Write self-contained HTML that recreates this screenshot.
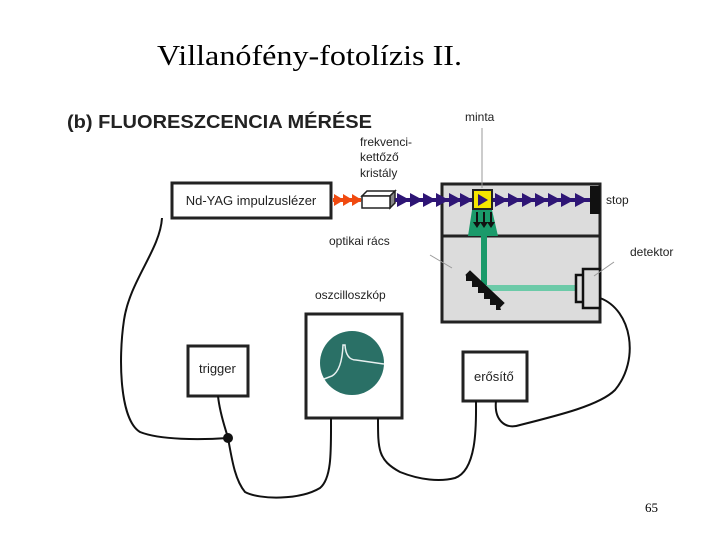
<!DOCTYPE html>
<html><head><meta charset="utf-8"><style>
html,body{margin:0;padding:0;background:#fff;width:720px;height:540px;overflow:hidden}
svg{display:block}
.s{font-family:"Liberation Sans",sans-serif;fill:#222}
</style></head><body>
<svg width="720" height="540" viewBox="0 0 720 540" xmlns="http://www.w3.org/2000/svg">
<text x="157" y="65" textLength="305" lengthAdjust="spacingAndGlyphs" font-family="Liberation Serif,serif" font-size="28" fill="#000">Villanófény-fotolízis II.</text>
<text class="s" x="67" y="128" font-size="18" font-weight="bold" fill="#333" textLength="305" lengthAdjust="spacingAndGlyphs">(b) FLUORESZCENCIA MÉRÉSE</text>

<rect x="442" y="184" width="158" height="138" fill="#dcdcdc" stroke="#222" stroke-width="3"/>
<line x1="442" y1="236" x2="600" y2="236" stroke="#222" stroke-width="3"/>
<rect x="590" y="186" width="10" height="28" fill="#111"/>

<rect x="172" y="183" width="159" height="35" fill="#fff" stroke="#222" stroke-width="3"/>
<text class="s" x="251" y="205" font-size="13" text-anchor="middle">Nd-YAG impulzuslézer</text>

<g fill="#f04a10">
<path d="M334,200 l0,-6 l10,6 l-10,6z M343,200 l0,-6 l10,6 l-10,6z M352,200 l0,-6 l10,6 l-10,6z"/>
<rect x="333" y="198" width="28" height="4"/>
</g>
<path d="M362,196 l5,-5 h28 l-5,5z" fill="#fff" stroke="#222" stroke-width="1.5"/>
<path d="M390,196 l5,-5 v12 l-5,5z" fill="#888" stroke="#222" stroke-width="1.5"/>
<rect x="362" y="196" width="28" height="12" fill="#fff" stroke="#222" stroke-width="1.5"/>

<path d="M472,210 L492,210 L498,236 L468,236z" fill="#1a9a6a"/>
<line x1="484" y1="210" x2="484" y2="290" stroke="#1a9a6a" stroke-width="6"/>
<line x1="484" y1="288" x2="577" y2="288" stroke="#6ccaa8" stroke-width="6"/>
<g fill="#111"><path d="M476,212 l0,10 l-3,0 l4,6 l4,-6 l-3,0 l0,-10z M483,212 l0,10 l-3,0 l4,6 l4,-6 l-3,0 l0,-10z M490,212 l0,10 l-3,0 l4,6 l4,-6 l-3,0 l0,-10z"/></g>

<g fill="#2e1575">
<rect x="395" y="198" width="195" height="4"/>
<path d="M0,-7 l13,7 l-13,7z" transform="translate(397,200)"/>
<path d="M0,-7 l13,7 l-13,7z" transform="translate(410,200)"/>
<path d="M0,-7 l13,7 l-13,7z" transform="translate(423,200)"/>
<path d="M0,-7 l13,7 l-13,7z" transform="translate(436,200)"/>
<path d="M0,-7 l13,7 l-13,7z" transform="translate(449,200)"/>
<path d="M0,-7 l13,7 l-13,7z" transform="translate(460,200)"/>
<path d="M0,-7 l13,7 l-13,7z" transform="translate(495,200)"/>
<path d="M0,-7 l13,7 l-13,7z" transform="translate(508,200)"/>
<path d="M0,-7 l13,7 l-13,7z" transform="translate(522,200)"/>
<path d="M0,-7 l13,7 l-13,7z" transform="translate(535,200)"/>
<path d="M0,-7 l13,7 l-13,7z" transform="translate(548,200)"/>
<path d="M0,-7 l13,7 l-13,7z" transform="translate(561,200)"/>
<path d="M0,-7 l13,7 l-13,7z" transform="translate(575,200)"/>
</g>
<rect x="473" y="190" width="19" height="19" fill="#f5e600" stroke="#222" stroke-width="2"/>
<path d="M478,194 l10,6 l-10,6z" fill="#2e1575"/>

<!-- grating -->
<path d="M466,275 L470,271 L504,303 L500,307z" fill="#111" stroke="#111" stroke-width="1"/>
<path d="M466,275 L466,281 L472,281 L472,287 L478,287 L478,293 L484,293 L484,299 L490,299 L490,305 L496,305 L496,310 L501,310 L500,307z" fill="#111"/>

<rect x="576" y="275" width="8" height="27" fill="#dcdcdc" stroke="#111" stroke-width="2.5"/>
<rect x="583" y="269" width="17" height="39" fill="#dcdcdc" stroke="#111" stroke-width="2.5"/>

<g stroke="#999" stroke-width="1">
<line x1="482" y1="128" x2="482" y2="188"/>
<line x1="430" y1="255" x2="452" y2="268"/>
<line x1="614" y1="262" x2="594" y2="276"/>
</g>
<g class="s" font-size="12">
<text x="465" y="121">minta</text>
<text x="360" y="146">frekvenci-</text>
<text x="360" y="161">kettőző</text>
<text x="360" y="177">kristály</text>
<text x="606" y="204">stop</text>
<text x="329" y="245">optikai rács</text>
<text x="630" y="256">detektor</text>
<text x="315" y="299">oszcilloszkóp</text>
</g>

<rect x="306" y="314" width="96" height="104" fill="#fff" stroke="#222" stroke-width="3"/>
<circle cx="352" cy="363" r="32" fill="#2a7066"/>
<path d="M324,379 L332,376 Q342,370 343,345 L345,345 Q346,360 356,360 L384,364" fill="none" stroke="#e8f0f0" stroke-width="1.5"/>
<rect x="188" y="346" width="60" height="50" fill="#fff" stroke="#222" stroke-width="3"/>
<text class="s" x="199" y="373" font-size="13">trigger</text>
<rect x="463" y="352" width="64" height="49" fill="#fff" stroke="#222" stroke-width="3"/>
<text class="s" x="474" y="381" font-size="13">erősítő</text>

<g fill="none" stroke="#111" stroke-width="2">
<path d="M162,218 C160,250 130,280 124,320 C118,360 120,420 140,432 C160,440 200,440 228,438"/>
<path d="M218,396 C220,415 226,430 228,438 C232,460 235,480 245,492 C260,500 300,500 320,488 C332,478 331,450 331,418"/>
<path d="M378,418 C378,450 378,460 400,472 C420,480 440,482 455,478 C478,470 476,420 476,401"/>
<path d="M496,401 C494,420 505,430 520,425 C560,415 600,405 615,390 C640,360 632,310 600,298"/>
</g>
<circle cx="228" cy="438" r="5" fill="#111"/>
<text x="645" y="512" font-family="Liberation Serif,serif" font-size="13" fill="#000">65</text>
</svg>
</body></html>
